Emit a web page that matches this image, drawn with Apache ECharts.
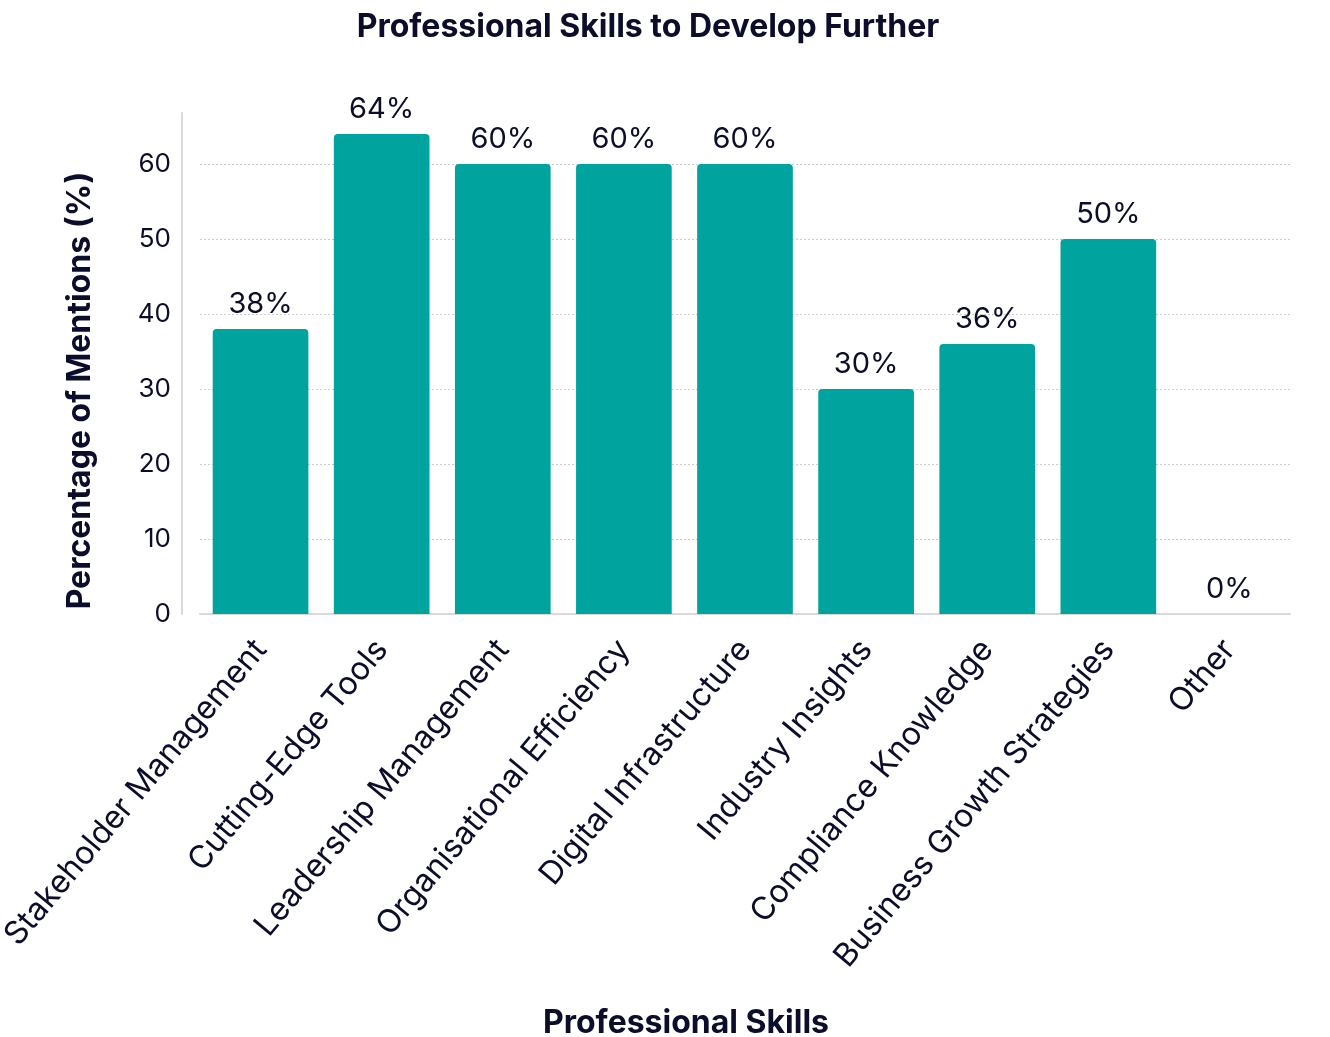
<!DOCTYPE html>
<html>
<head>
<meta charset="utf-8">
<script src="https://cdn.jsdelivr.net/npm/echarts@6/dist/echarts.min.js"></script>
<style>html,body{margin:0;padding:0;background:#fff;}#chart{width:1330px;height:1037px;}</style>
</head>
<body>
<div id="chart"></div>
<script>
const categories = ["Stakeholder Management","Cutting-Edge Tools","Leadership Management","Organisational Efficiency","Digital Infrastructure","Industry Insights","Compliance Knowledge","Business Growth Strategies","Other"];
const values = [38, 64, 60, 60, 60, 30, 36, 50, 0];
const yTicks = [0, 10, 20, 30, 40, 50, 60];

const dark = '#0c0d2b';
const chart = echarts.init(document.getElementById('chart'), null, {renderer: 'canvas'});
chart.setOption({
  backgroundColor: '#ffffff',
  textStyle: {fontFamily: 'Inter'},
  title: {
    text: 'Professional Skills to Develop Further',
    left: 643, top: 6, textAlign: 'center',
    textStyle: {fontFamily: 'Inter', fontWeight: 'bold', fontSize: 32, color: dark}
  },
  grid: {left: 200, right: 40, top: 113, bottom: 423, containLabel: false, outerBoundsMode: 'none'},
  xAxis: {
    type: 'category',
    data: categories,
    name: 'Professional Skills',
    nameLocation: 'middle',
    nameGap: 393,
    nameTextStyle: {fontFamily: 'Inter', fontWeight: 'bold', fontSize: 32, color: dark, padding: [0, 118, 0, 0], verticalAlign: 'top'},
    axisLine: {show: true, lineStyle: {color: '#d9d9d9', width: 2}},
    axisTick: {show: false},
    axisLabel: {rotate: 50, fontSize: 32, color: dark, margin: 30, interval: 0, fontFamily: 'Inter'}
  },
  yAxis: {
    type: 'value',
    min: 0, max: 66.8, interval: 10,
    offset: 18,
    name: 'Percentage of Mentions (%)',
    nameLocation: 'middle',
    nameGap: 86,
    nameRotate: 90,
    nameTextStyle: {fontFamily: 'Inter', fontWeight: 'bold', fontSize: 32, color: dark, padding: [0, 54, 0, 0]},
    axisLine: {show: true, lineStyle: {color: '#d9d9d9', width: 2}},
    axisTick: {show: false},
    axisLabel: {
      fontSize: 26, color: dark, margin: 11, fontFamily: 'Inter',
      formatter: v => (yTicks.indexOf(v) >= 0 ? String(v) : '')
    },
    splitLine: {show: true, showMaxLine: false, lineStyle: {color: '#cccccc', type: [2, 2], width: 1}}
  },
  series: [{
    type: 'bar',
    data: values,
    barCategoryGap: '21%',
    itemStyle: {color: '#00a39e', borderRadius: [4, 4, 0, 0]},
    label: {
      show: true, position: 'top', distance: 10,
      fontSize: 29, color: dark, fontFamily: 'Inter',
      formatter: p => p.value + '%'
    }
  }]
});
</script>
</body>
</html>
